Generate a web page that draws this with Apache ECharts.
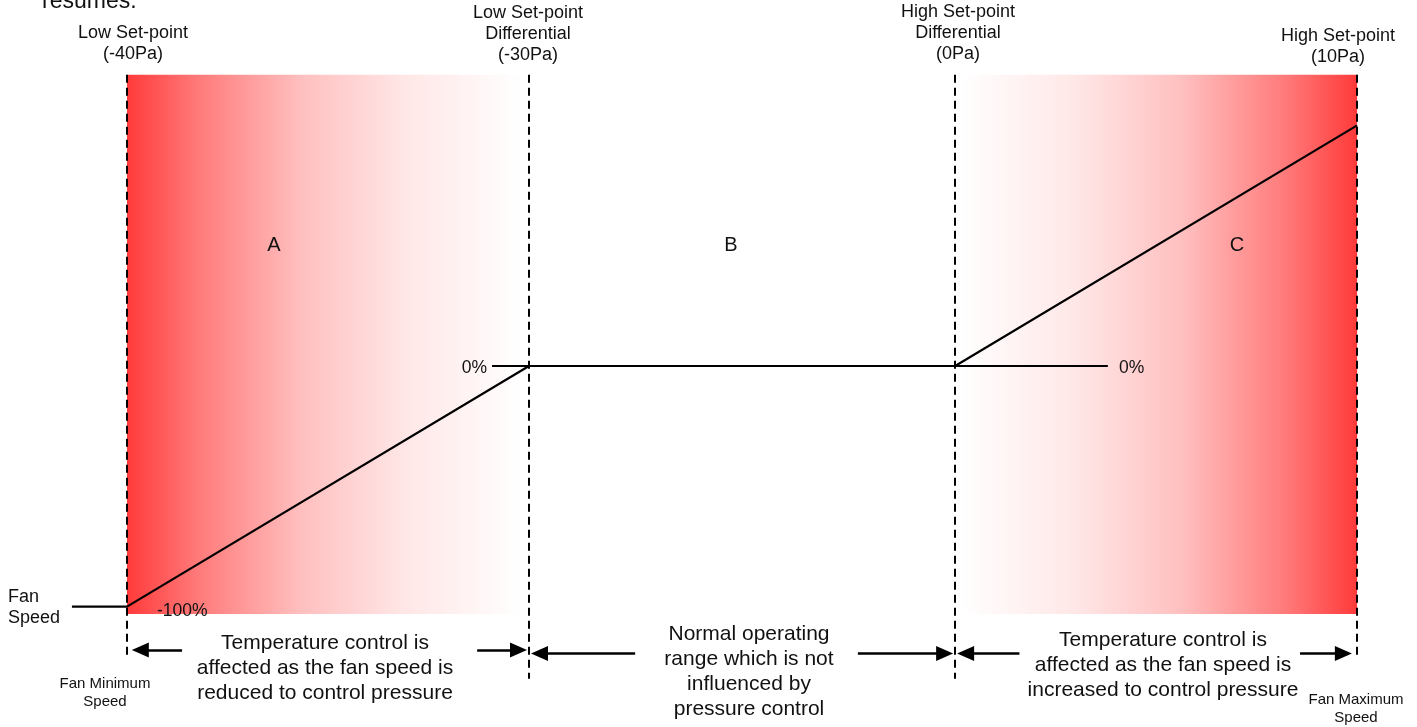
<!DOCTYPE html>
<html>
<head>
<meta charset="utf-8">
<title>Fan speed pressure control</title>
<script src="https://cdn.jsdelivr.net/npm/echarts@6/dist/echarts.min.js"></script>
<style>
  html, body { margin: 0; padding: 0; background: #fff; }
  #chart { width: 1417px; height: 727px; }
</style>
</head>
<body>
<div id="chart"></div>
<script>
// set-points along the (schematic, not to scale) pressure axis
const setPointNames = ['Low Set-point', 'Low Set-point\nDifferential', 'High Set-point\nDifferential', 'High Set-point'];
const setPointPa = [-40, -30, 0, 10];
const setPointPos = [0, 10, 20.6, 30.6];
// fan speed (%) reached at each set-point
const fanSpeedPct = [-100, 0, 0, 100];
const fanLeadPos = -1.37; // "Fan Speed" lead-in line start
// short 0% reference stubs [from, to]
const zeroStubs = [[9.08, 10], [20.6, 24.4]];
// shaded zones [from, to] (A fades right, C fades left)
const zoneNames = ['A', 'B', 'C'];
const redZones = [[0, 9.83], [20.72, 30.6]];
const zoneTop = 121;
const zoneBottom = -103;
const dashBottom = [-120, -130, -130, -120];
// bottom range arrows [from, tip, y]
const arrows = [
  [1.37, 0.12, -118], [8.71, 9.95, -118],
  [12.64, 10.05, -119.5], [18.18, 20.55, -119.5],
  [22.2, 20.65, -119.5], [29.18, 30.47, -119.5]
];

const font = '"Liberation Sans", Arial, sans-serif';
const headLen = 17;     // arrow head length, px
const pxPerUnit = 40.2; // 1407px grid / 35 units

const chart = echarts.init(document.getElementById('chart'));

function fade(leftIsRed) {
  const stops = [
    { offset: 0, color: '#ff3a3a' },
    { offset: 0.18, color: '#ff7a7a' },
    { offset: 0.44, color: '#ffbfbf' },
    { offset: 0.7, color: '#ffe6e6' },
    { offset: 1, color: '#ffffff' }
  ];
  const s = leftIsRed ? stops : stops.map(o => ({ offset: 1 - o.offset, color: o.color })).reverse();
  return new echarts.graphic.LinearGradient(0, 0, 1, 0, s);
}

function text(t, x, y, size, align) {
  return {
    type: 'text', x: x, y: y, z: 100, silent: true,
    style: {
      text: t, fill: '#111', font: size + 'px ' + font,
      align: align || 'center', verticalAlign: 'middle', lineHeight: Math.round(size * 1.17)
    }
  };
}

const fanLine = [[fanLeadPos, fanSpeedPct[0]]].concat(setPointPos.map((p, i) => [p, fanSpeedPct[i]]));

// triangle symbol is centred on the end point, so pull it back by half its length
const arrowLines = arrows.map(a => {
  const dir = Math.sign(a[1] - a[0]);
  const end = a[1] - dir * (headLen / 2) / pxPerUnit;
  return [{ coord: [a[0], a[2]] }, { coord: [end, a[2]] }];
});

const headerX = [133, 528, 958, 1338];
const headerY = [44, 34, 33, 47];

chart.setOption({
  animation: false,
  grid: { left: 6.4, right: 3.6, top: 5, height: 726 },
  xAxis: { type: 'value', min: -3, max: 32, show: false },
  yAxis: { type: 'value', min: -150, max: 150, show: false },
  series: [
    {
      name: 'zones', type: 'line', data: [], silent: true, z: 1,
      markArea: {
        silent: true,
        label: { show: false },
        data: redZones.map((z, i) => [
          { xAxis: z[0], yAxis: zoneTop, itemStyle: { color: fade(i === 0) } },
          { xAxis: z[1], yAxis: zoneBottom }
        ])
      }
    },
    {
      name: 'setpoints', type: 'line', data: [], silent: true, z: 3,
      markLine: {
        silent: true, symbol: 'none', label: { show: false },
        lineStyle: { color: '#000', width: 2, type: [8, 5] },
        data: setPointPos.map((p, i) => [{ coord: [p, zoneTop] }, { coord: [p, dashBottom[i]] }])
      }
    },
    {
      name: 'Fan Speed', type: 'line', data: fanLine, symbol: 'none', silent: true, z: 4,
      lineStyle: { color: '#000', width: 2.2 }
    },
    ...zeroStubs.map(s => ({
      name: 'zero', type: 'line', data: [[s[0], 0], [s[1], 0]], symbol: 'none', silent: true, z: 4,
      lineStyle: { color: '#000', width: 2.2 }
    })),
    {
      name: 'ranges', type: 'line', data: [], silent: true, z: 4,
      markLine: {
        silent: true, symbol: ['none', 'triangle'], symbolSize: [15, headLen], label: { show: false },
        lineStyle: { color: '#000', width: 2.5, type: 'solid' },
        data: arrowLines
      }
    }
  ],
  graphic: [
    text('resumes.', 42, 2, 23, 'left'),
    ...setPointNames.map((n, i) => text(n + '\n(' + setPointPa[i] + 'Pa)', headerX[i], headerY[i], 18)),
    text(zoneNames[0], 274, 245, 20),
    text(zoneNames[1], 731, 245, 20),
    text(zoneNames[2], 1237, 245, 20),
    text('0%', 487, 368, 17.5, 'right'),
    text('0%', 1119, 368, 17.5, 'left'),
    text('-100%', 157, 611, 17.5, 'left'),
    text('Fan\nSpeed', 8, 608, 18, 'left'),
    text('Temperature control is\naffected as the fan speed is\nreduced to control pressure', 325, 668, 21),
    text('Normal operating\nrange which is not\ninfluenced by\npressure control', 749, 672, 21),
    text('Temperature control is\naffected as the fan speed is\nincreased to control pressure', 1163, 665, 21),
    text('Fan Minimum\nSpeed', 105, 693, 15),
    text('Fan Maximum\nSpeed', 1356, 709, 15)
  ]
});
</script>
</body>
</html>
